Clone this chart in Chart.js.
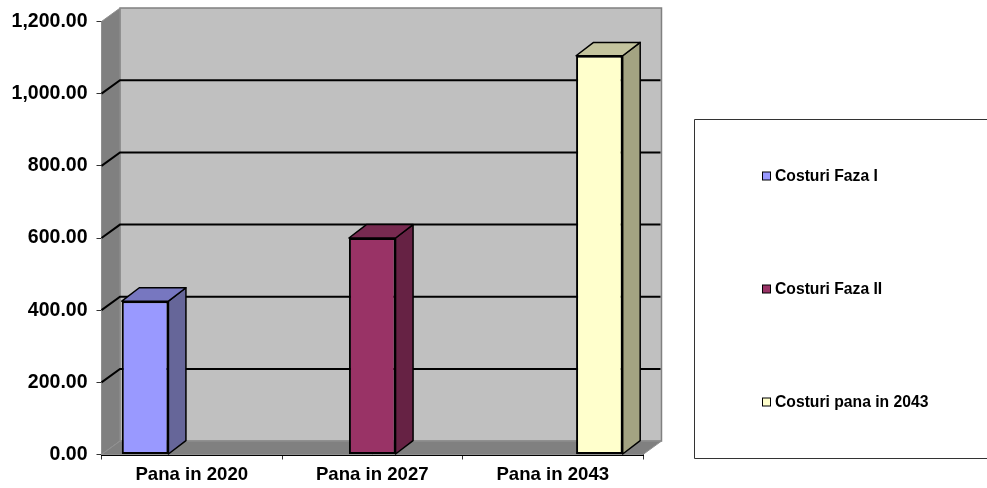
<!DOCTYPE html>
<html>
<head>
<meta charset="utf-8">
<style>
  html, body { margin: 0; padding: 0; background: #fff; }
  canvas { display: block; }
</style>
<script src="https://cdn.jsdelivr.net/npm/chart.js@4"></script>
</head>
<body>
<canvas id="chart" width="987" height="488"></canvas>
<script>
const categories = ['Pana in 2020', 'Pana in 2027', 'Pana in 2043'];
const seriesNames = ['Costuri Faza I', 'Costuri Faza II', 'Costuri pana in 2043'];
const fazaI = [425, null, null];
const fazaII = [null, 600, null];
const pana2043 = [null, null, 1105];
const frontColors = ['#9999FF', '#993366', '#FFFFCC'];
const sideColors = ['#666699', '#662244', '#A3A382'];
const topColors = ['#7777C0', '#772A50', '#C4C49E'];

const depthX = 18.5;
const depthY = 13.4;
const fontName = '"Liberation Sans", Arial, sans-serif';

function poly(ctx, pts, fill, stroke, lw) {
    ctx.beginPath();
    pts.forEach((p, i) => i ? ctx.lineTo(p[0], p[1]) : ctx.moveTo(p[0], p[1]));
    ctx.closePath();
    ctx.fillStyle = fill;
    ctx.fill();
    if (stroke) {
        ctx.strokeStyle = stroke;
        ctx.lineWidth = lw;
        ctx.stroke();
    }
}

// Back wall, side wall and floor of the 3D box
const walls = {
    id: 'walls',
    beforeDatasetsDraw(chart) {
        const ctx = chart.ctx;
        const a = chart.chartArea;
        const y = chart.scales.y;
        ctx.save();
        poly(ctx, [[a.left + depthX, a.top - depthY], [a.right + depthX, a.top - depthY],
            [a.right + depthX, a.bottom - depthY], [a.left + depthX, a.bottom - depthY]], '#C0C0C0', '#808080', 1.5);
        poly(ctx, [[a.left, a.top], [a.left + depthX, a.top - depthY],
            [a.left + depthX, a.bottom - depthY], [a.left, a.bottom]], '#808080', '#909090', 1);
        poly(ctx, [[a.left, a.bottom], [a.left + depthX, a.bottom - depthY],
            [a.right + depthX, a.bottom - depthY], [a.right, a.bottom]], '#808080', '#909090', 1);

        ctx.strokeStyle = '#000';
        ctx.lineWidth = 2;
        y.ticks.forEach(t => {
            if (t.value === 0 || t.value === y.max) return;
            const py = y.getPixelForValue(t.value);
            ctx.beginPath();
            ctx.moveTo(a.left, py);
            ctx.lineTo(a.left + depthX, py - depthY);
            ctx.lineTo(a.right + depthX - 1, py - depthY);
            ctx.stroke();
        });
        ctx.restore();
    },
    afterDatasetsDraw(chart) {
        const ctx = chart.ctx;
        ctx.save();
        ctx.lineJoin = 'round';
        chart.data.datasets.forEach((ds, i) => {
            chart.getDatasetMeta(i).data.forEach((bar, j) => {
                if (ds.data[j] === null) return;
                const l = bar.x - bar.width / 2;
                const r = bar.x + bar.width / 2;
                poly(ctx, [[r, bar.y], [r + depthX - 1, bar.y - depthY], [r + depthX - 1, bar.base - depthY], [r, bar.base]], sideColors[i], '#000', 1.5);
                poly(ctx, [[l, bar.y], [l + depthX - 1, bar.y - depthY], [r + depthX - 1, bar.y - depthY], [r, bar.y]], topColors[i], '#000', 1.5);
            });
        });
        ctx.restore();
    }
};

// Legend panel on the right
const legendBox = {
    id: 'legendBox',
    afterDraw(chart) {
        const ctx = chart.ctx;
        ctx.save();
        ctx.strokeStyle = '#333';
        ctx.lineWidth = 1;
        ctx.beginPath();
        ctx.moveTo(987, 119.5);
        ctx.lineTo(694.5, 119.5);
        ctx.lineTo(694.5, 458.5);
        ctx.lineTo(987, 458.5);
        ctx.stroke();
        ctx.font = 'bold 15.7px ' + fontName;
        ctx.textBaseline = 'middle';
        seriesNames.forEach((name, i) => {
            const cy = 176 + i * 113;
            ctx.fillStyle = frontColors[i];
            ctx.fillRect(762.5, cy - 4, 8, 8);
            ctx.strokeStyle = '#000';
            ctx.strokeRect(762.5, cy - 4, 8, 8);
            ctx.fillStyle = '#000';
            ctx.fillText(name, 775, cy + 0.5);
        });
        ctx.restore();
    }
};

const seriesData = [fazaI, fazaII, pana2043];

new Chart(document.getElementById('chart'), {
    type: 'bar',
    data: {
        labels: categories,
        datasets: seriesNames.map((name, i) => ({
            label: name,
            data: seriesData[i],
            backgroundColor: frontColors[i],
            borderColor: '#000',
            borderWidth: 2,
            borderSkipped: false,
            categoryPercentage: 0.775,
            barPercentage: 1
        }))
    },
    options: {
        responsive: false,
        animation: false,
        layout: {
            autoPadding: false,
            padding: { top: 21.5, right: 344, left: 0, bottom: 0 }
        },
        plugins: {
            legend: { display: false },
            tooltip: { enabled: false }
        },
        scales: {
            x: {
                afterFit(scale) { scale.height = 33.5; },
                border: { color: '#000', width: 2 },
                grid: { drawOnChartArea: false, tickLength: 5, tickColor: '#333', tickWidth: 1 },
                ticks: { color: '#000', padding: 4, maxRotation: 0, font: { family: fontName, size: 18.6, weight: 'bold' } }
            },
            y: {
                min: 0,
                max: 1200,
                afterFit(scale) { scale.width = 101.5; },
                border: { color: '#000', width: 2 },
                grid: { drawOnChartArea: false, tickLength: 5, tickColor: '#333', tickWidth: 1 },
                ticks: {
                    stepSize: 200,
                    color: '#000',
                    padding: 9,
                    font: { family: fontName, size: 19.5, weight: 'bold' },
                    callback: v => v.toLocaleString('en-US', { minimumFractionDigits: 2, maximumFractionDigits: 2 })
                }
            }
        }
    },
    plugins: [walls, legendBox]
});
</script>
</body>
</html>
